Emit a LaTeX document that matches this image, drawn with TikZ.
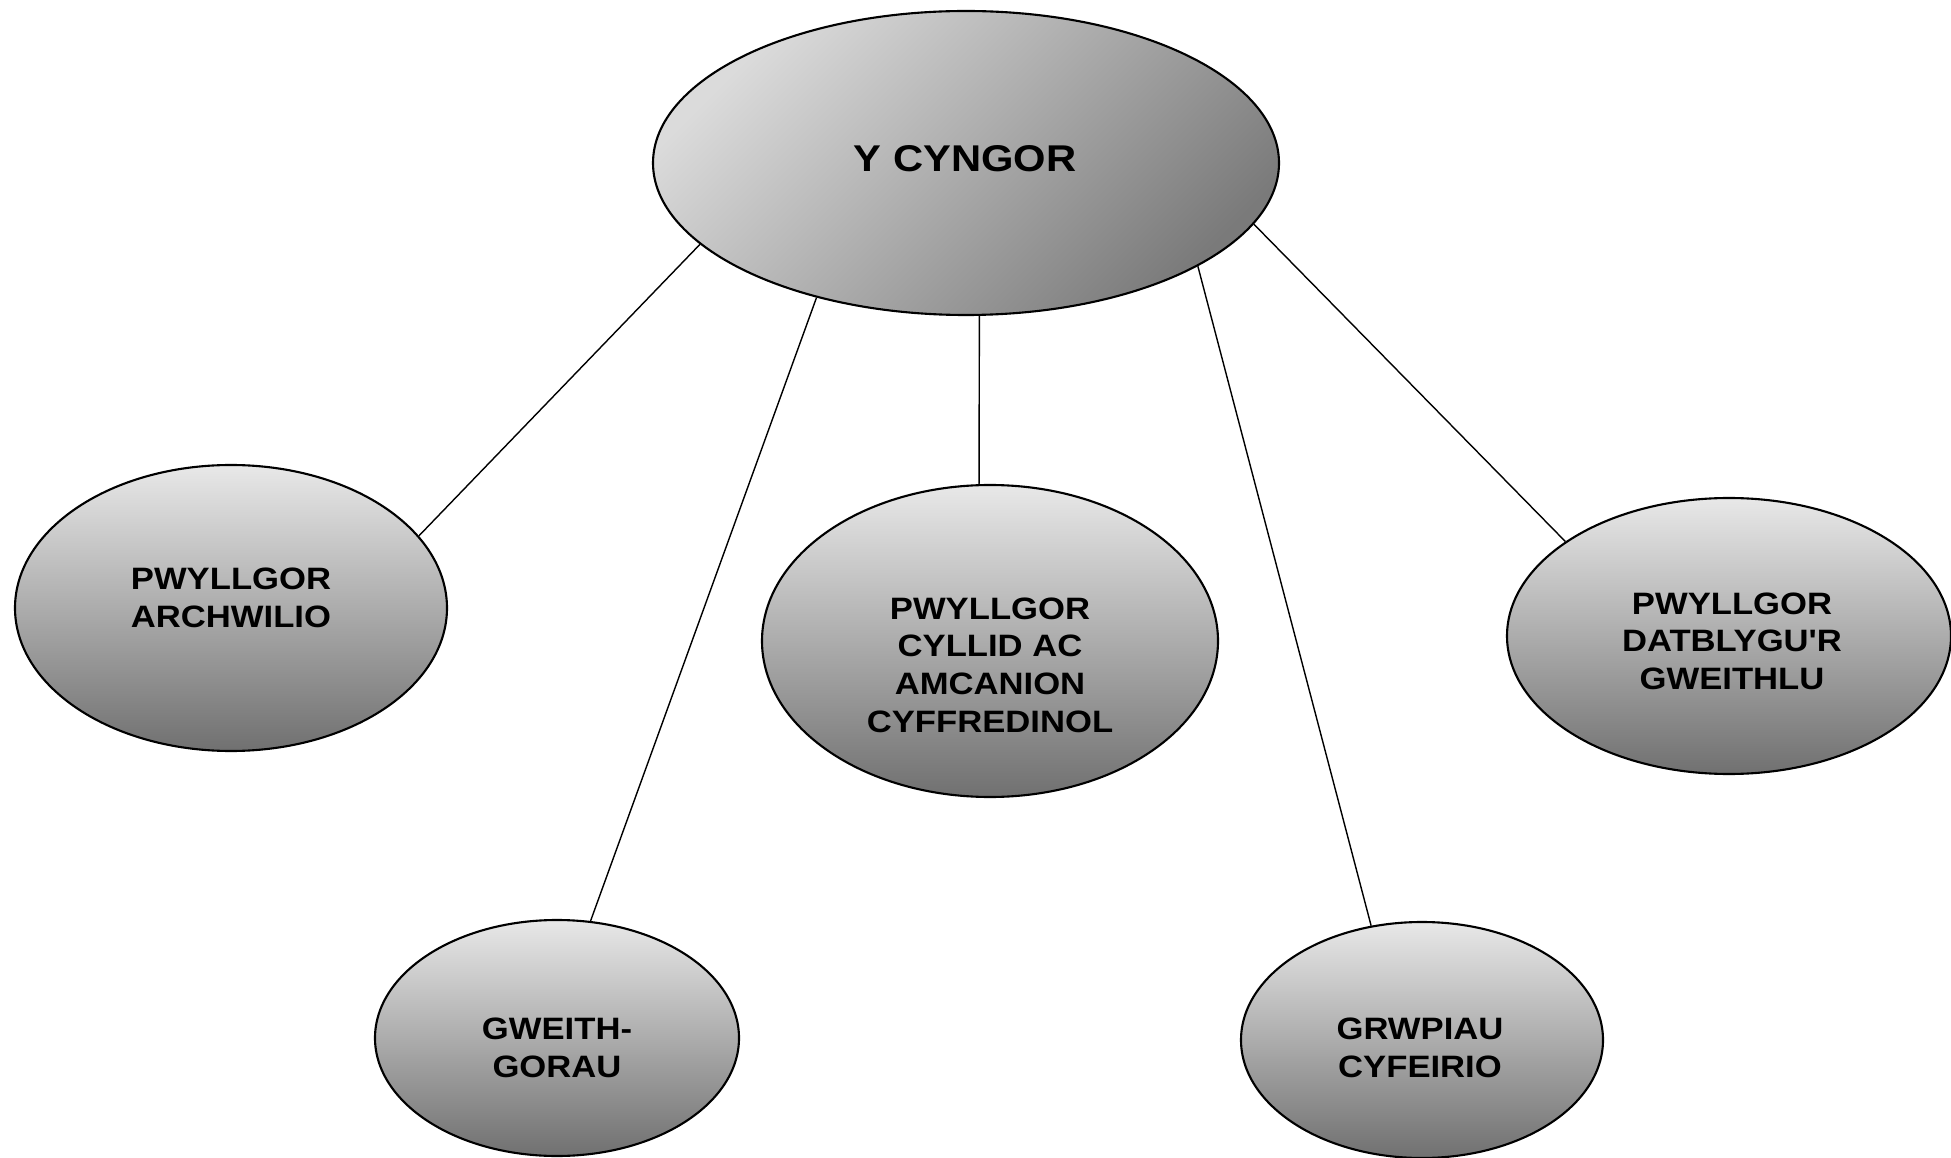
\documentclass[tikz,border=0pt]{standalone}
\usepackage{fontspec}
\setmainfont{Liberation Sans}
\newfontfamily\boxfont[FakeStretch=1.12]{Liberation Sans}
\usepackage{tikz}
\usetikzlibrary{shapes.geometric}

\begin{document}
\begin{tikzpicture}[
        bubble/.style={ellipse, draw, line width=0.6pt, inner sep=0pt,
            top color=black!9, bottom color=black!56},
        lbl/.style={align=center, font=\boxfont\bfseries\fontsize{8.8}{10.7}\selectfont}
    ]
        \useasboundingbox (0,0) rectangle (19.51,-11.58);

        % Nodes
        \node[bubble, top color=black!14, bottom color=black!52, shading angle=45,
            minimum width=6.26cm, minimum height=3.04cm] (cyngor) at (9.66,-1.63) {};
        \node[bubble, minimum width=4.32cm, minimum height=2.86cm] (archwilio) at (2.31,-6.08) {};
        \node[bubble, minimum width=4.56cm, minimum height=3.12cm] (cyllid) at (9.90,-6.41) {};
        \node[bubble, minimum width=4.44cm, minimum height=2.76cm] (gweithlu) at (17.29,-6.36) {};
        \node[bubble, minimum width=3.64cm, minimum height=2.36cm] (gweithgorau) at (5.57,-10.38) {};
        \node[bubble, minimum width=3.62cm, minimum height=2.36cm] (cyfeirio) at (14.22,-10.40) {};

        % Edges
        \draw[-, thin] (cyngor.197) -- (archwilio.21);
        \draw[-, thin] (cyngor.222) -- (gweithgorau.74);
        \draw[-, thin] (cyngor.275) -- (cyllid.94);
        \draw[-, thin] (cyngor.336) -- (cyfeirio.114);
        \draw[-, thin] (cyngor.348) -- (gweithlu.150);

        % Labels
        \node[lbl, font=\boxfont\bfseries\fontsize{10.6}{12}\selectfont] (cyngortxt) at (9.65,-1.59) {Y CYNGOR};
        \node[lbl] (archwiliotxt) at (2.31,-5.98) {PWYLLGOR\\ARCHWILIO};
        \node[lbl] (cyllidtxt) at (9.90,-6.65) {PWYLLGOR\\CYLLID AC\\AMCANION\\CYFFREDINOL};
        \node[lbl] (gweithlutxt) at (17.32,-6.41) {PWYLLGOR\\DATBLYGU'R\\GWEITHLU};
        \node[lbl] (gweithgorautxt) at (5.57,-10.48) {GWEITH-\\GORAU};
        \node[lbl] (cyfeiriotxt) at (14.20,-10.48) {GRWPIAU\\CYFEIRIO};
    \end{tikzpicture}
\end{document}
